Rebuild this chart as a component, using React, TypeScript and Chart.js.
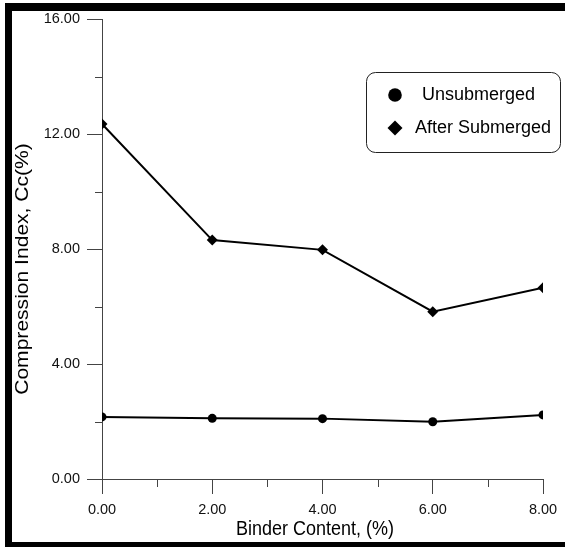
import { useEffect, useRef } from 'react';
import { Chart, registerables } from 'chart.js';

Chart.register(...registerables);

const binderContent = [0, 2, 4, 6, 8];
const unsubmerged = [2.16, 2.11, 2.1, 1.99, 2.23];
const afterSubmerged = [12.35, 8.31, 7.97, 5.82, 6.65];
const seriesLabels = ['Unsubmerged', 'After Submerged'];
const xAxisTitle = 'Binder Content, (%)';
const yAxisTitle = 'Compression Index, Cc(%)';

const FONT = "'Liberation Sans', Arial, sans-serif";
const AXIS = '#444';
const INK = '#000';

const framePlugin = {
  id: 'frame',
  beforeDraw(chart: any) {
    const ctx = chart.ctx;
    ctx.save();
    ctx.fillStyle = '#fff';
    ctx.fillRect(0, 0, chart.width, chart.height);
    ctx.fillStyle = '#000';
    ctx.fillRect(5, 3, 7, chart.height - 3);
    ctx.fillRect(5, 3, chart.width - 5, 8);
    ctx.fillRect(5, 542, chart.width - 5, chart.height - 542);
    ctx.restore();
  },
};

const minorTicksPlugin = {
  id: 'minorTicks',
  afterDraw(chart: any) {
    const ctx = chart.ctx;
    const xs = chart.scales.x;
    const ys = chart.scales.y;
    ctx.save();
    ctx.strokeStyle = AXIS;
    ctx.lineWidth = 1;
    ctx.beginPath();
    xs.ticks.forEach((t: any) => {
      if (t.value % 2 !== 0) {
        const px = Math.round(xs.getPixelForValue(t.value)) + 0.5;
        ctx.moveTo(px, xs.top);
        ctx.lineTo(px, xs.top + 8);
      }
    });
    ys.ticks.forEach((t: any) => {
      if (t.value % 4 !== 0) {
        const py = Math.round(ys.getPixelForValue(t.value)) + 0.5;
        ctx.moveTo(ys.right - 7, py);
        ctx.lineTo(ys.right, py);
      }
    });
    ctx.stroke();
    ctx.restore();
  },
};

const axisTitlesPlugin = {
  id: 'axisTitles',
  afterDraw(chart: any) {
    const ctx = chart.ctx;
    ctx.save();
    ctx.fillStyle = '#000';
    ctx.font = `18px ${FONT}`;
    ctx.textAlign = 'center';
    ctx.textBaseline = 'middle';
    ctx.save();
    ctx.translate(315, 529);
    ctx.scale(1, 1.15);
    ctx.fillText(xAxisTitle, 0, 0);
    ctx.restore();
    ctx.save();
    ctx.translate(23, 269);
    ctx.rotate(-Math.PI / 2);
    ctx.scale(1.17, 1);
    ctx.fillText(yAxisTitle, 0, 0);
    ctx.restore();
    ctx.restore();
  },
};

const legendBoxPlugin = {
  id: 'legendBox',
  afterDraw(chart: any) {
    const ctx = chart.ctx;
    ctx.save();
    ctx.strokeStyle = '#222';
    ctx.lineWidth = 1;
    ctx.beginPath();
    (ctx as any).roundRect(366.5, 72.5, 194, 80, 9);
    ctx.stroke();
    const rows = [
      { y: 95, textX: 422 },
      { y: 128, textX: 415 },
    ];
    chart.data.datasets.forEach((ds: any, i: number) => {
      const r = rows[i];
      ctx.fillStyle = INK;
      ctx.beginPath();
      if (ds.pointStyle === 'rectRot') {
        const s = 7.5;
        ctx.moveTo(395, r.y - s);
        ctx.lineTo(395 + s, r.y);
        ctx.lineTo(395, r.y + s);
        ctx.lineTo(395 - s, r.y);
        ctx.closePath();
      } else {
        ctx.arc(395, r.y, 6.8, 0, Math.PI * 2);
      }
      ctx.fill();
      ctx.font = `18px ${FONT}`;
      ctx.textBaseline = 'middle';
      ctx.textAlign = 'left';
      ctx.fillText(ds.label, r.textX, r.y);
    });
    ctx.restore();
  },
};

export default function App() {
  const ref = useRef<HTMLCanvasElement | null>(null);

  useEffect(() => {
    if (!ref.current) return;
    Chart.defaults.font.family = FONT;
    const chart = new Chart(ref.current, {
      type: 'line',
      data: {
        datasets: [
          {
            label: seriesLabels[0],
            data: binderContent.map((x, i) => ({ x, y: unsubmerged[i] })),
            borderColor: INK,
            backgroundColor: INK,
            borderWidth: 2,
            pointStyle: 'circle',
            pointRadius: 4.5,
            pointBorderWidth: 0,
            tension: 0,
          },
          {
            label: seriesLabels[1],
            data: binderContent.map((x, i) => ({ x, y: afterSubmerged[i] })),
            borderColor: INK,
            backgroundColor: INK,
            borderWidth: 2,
            pointStyle: 'rectRot',
            pointRadius: 5.5,
            pointBorderWidth: 0,
            tension: 0,
          },
        ],
      },
      options: {
        animation: false,
        responsive: false,
        devicePixelRatio: 1,
        layout: { padding: { top: 19, right: 22, bottom: 0, left: 0 } },
        plugins: { legend: { display: false }, tooltip: { enabled: false } },
        scales: {
          x: {
            type: 'linear',
            min: 0,
            max: 8,
            afterFit: (s: any) => {
              s.height = 68;
            },
            ticks: {
              stepSize: 1,
              autoSkip: false,
              maxRotation: 0,
              padding: 7,
              color: '#111',
              font: { size: 14.5, family: FONT },
              callback: (v: any) => (Number(v) % 2 === 0 ? Number(v).toFixed(2) : ''),
            },
            grid: {
              drawOnChartArea: false,
              drawTicks: true,
              tickLength: 15,
              tickWidth: 1,
              tickColor: (c: any) => (c.tick && c.tick.value % 2 === 0 ? AXIS : 'rgba(0,0,0,0)'),
            },
            border: { color: AXIS, width: 1 },
            title: { display: false, text: xAxisTitle },
          },
          y: {
            type: 'linear',
            min: 0,
            max: 16,
            afterFit: (s: any) => {
              s.width = 102;
            },
            ticks: {
              stepSize: 2,
              autoSkip: false,
              padding: 7,
              color: '#111',
              font: { size: 14.5, family: FONT },
              callback: (v: any) => (Number(v) % 4 === 0 ? Number(v).toFixed(2) : ''),
            },
            grid: {
              drawOnChartArea: false,
              drawTicks: true,
              tickLength: 15,
              tickWidth: 1,
              tickColor: (c: any) => (c.tick && c.tick.value % 4 === 0 ? AXIS : 'rgba(0,0,0,0)'),
            },
            border: { color: AXIS, width: 1 },
            title: { display: false, text: yAxisTitle },
          },
        },
      },
      plugins: [framePlugin, minorTicksPlugin, axisTitlesPlugin, legendBoxPlugin],
    });
    return () => chart.destroy();
  }, []);

  return (
    <div style={{ position: 'absolute', left: 0, top: 0, width: 565, height: 547 }}>
      <canvas ref={ref} width={565} height={547} />
    </div>
  );
}
